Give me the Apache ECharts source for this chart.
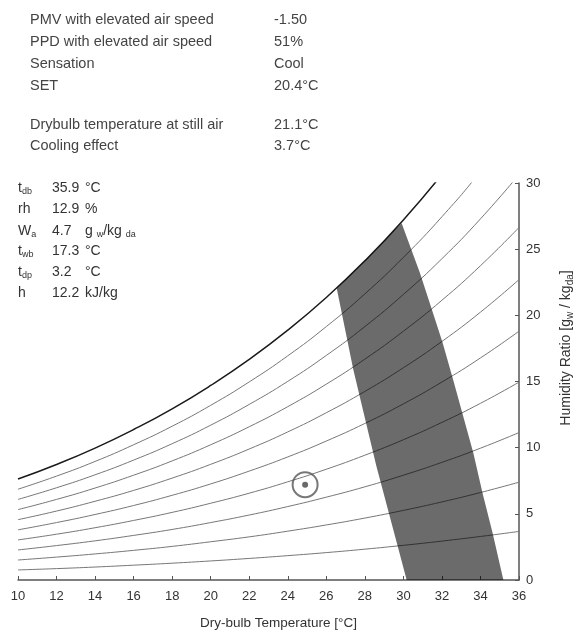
<!DOCTYPE html>
<html>
<head>
<meta charset="utf-8">
<script src="https://cdn.jsdelivr.net/npm/echarts@6/dist/echarts.min.js"></script>
<style>
html,body{margin:0;padding:0;background:#fff;}
#chart{width:576px;height:633px;}
</style>
</head>
<body>
<div id="chart"></div>
<script>
// Dry-bulb temperatures (°C) at which the relative-humidity lines are sampled
const temps = [10, 12, 14, 16, 18, 20, 22, 24, 26, 28, 30, 32, 34, 36];
// Humidity ratio (g/kg) of each constant-RH line
const rh10  = [0.76, 0.86, 0.98, 1.12, 1.27, 1.44, 1.63, 1.84, 2.07, 2.33, 2.62, 2.94, 3.29, 3.67];
const rh20  = [1.51, 1.73, 1.97, 2.24, 2.54, 2.89, 3.26, 3.69, 4.16, 4.68, 5.26, 5.90, 6.61, 7.39];
const rh30  = [2.27, 2.60, 2.96, 3.37, 3.82, 4.34, 4.91, 5.55, 6.26, 7.04, 7.92, 8.89, 9.96, 11.14];
const rh40  = [3.03, 3.46, 3.95, 4.50, 5.11, 5.80, 6.56, 7.42, 8.37, 9.43, 10.60, 11.91, 13.35, 14.95];
const rh50  = [3.79, 4.34, 4.95, 5.63, 6.40, 7.26, 8.23, 9.30, 10.50, 11.83, 13.31, 14.96, 16.78, 18.80];
const rh60  = [4.56, 5.21, 5.95, 6.77, 7.70, 8.74, 9.90, 11.19, 12.64, 14.25, 16.04, 18.03, 20.24, 22.70];
const rh70  = [5.32, 6.09, 6.95, 7.92, 9.00, 10.22, 11.58, 13.10, 14.80, 16.69, 18.80, 21.14, 23.75, 26.64];
const rh80  = [6.09, 6.97, 7.95, 9.06, 10.30, 11.70, 13.27, 15.01, 16.97, 19.15, 21.58, 24.28, 27.29, 30.63];
const rh90  = [6.86, 7.85, 8.96, 10.22, 11.62, 13.20, 14.97, 16.94, 19.15, 21.62, 24.38, 27.45, 30.87, 34.68];
const rh100 = [7.63, 8.73, 9.97, 11.37, 12.93, 14.70, 16.67, 18.88, 21.35, 24.12, 27.21, 30.65, 34.49, 38.77];

// Comfort zone polygon (dry-bulb °C, humidity ratio g/kg)
const comfortT = [26.54, 27.0, 27.5, 28.0, 28.5, 29.0, 29.5, 29.91, 30.86, 31.6, 32.04, 32.59, 33.63, 34.11, 34.63, 35.19, 30.17, 29.75, 28.6, 27.4];
const comfortW = [22.05, 22.70, 23.40, 24.12, 24.85, 25.62, 26.40, 26.95, 23.2, 19.9, 17.9, 15.1, 9.6, 6.55, 3.55, 0, 0, 2.3, 8.6, 15.9];

// Current state point
const pointT = [24.9];
const pointW = [7.2];

// Text panels
const infoLabels = ['PMV with elevated air speed', 'PPD with elevated air speed', 'Sensation', 'SET', 'Drybulb temperature at still air', 'Cooling effect'];
const infoValues = ['-1.50', '51%', 'Cool', '20.4°C', '21.1°C', '3.7°C'];
const stateLabels = ['t{s|db}', 'rh', 'W{s|a}', 't{s|wb}', 't{s|dp}', 'h'];
const stateValues = ['35.9', '12.9', '4.7', '17.3', '3.2', '12.2'];
const stateUnits = ['°C', '%', 'g {s|w}/kg {s|da}', '°C', '°C', 'kJ/kg'];

const xTicks = { min: 10, max: 36, interval: 2 };
const yTicks = { min: 0, max: 30, interval: 5 };

const FONT = 'Liberation Sans, Arial, sans-serif';
const TXT = '#333';

const rhSets = [rh10, rh20, rh30, rh40, rh50, rh60, rh70, rh80, rh90, rh100];
const lineSeries = rhSets.map((arr, k) => ({
  type: 'line',
  data: temps.map((t, i) => [t, arr[i]]),
  showSymbol: false,
  smooth: 0.5,
  clip: true,
  silent: true,
  z: 2,
  lineStyle: k === rhSets.length - 1 ? { color: '#1a1a1a', width: 1.5 } : { color: '#777', width: 1 }
}));

const graphics = [];
const infoY = [20, 42, 64, 86, 125, 146];
infoLabels.forEach((t, i) => {
  graphics.push({ type: 'text', x: 30, y: infoY[i], style: { text: t, font: '14.5px ' + FONT, fill: '#444', verticalAlign: 'middle' } });
  graphics.push({ type: 'text', x: 274, y: infoY[i], style: { text: infoValues[i], font: '14.5px ' + FONT, fill: '#444', verticalAlign: 'middle' } });
});
const richSub = { s: { fontSize: 9, fontFamily: FONT, fill: TXT, verticalAlign: 'bottom' } };
const stY = [188, 209, 231, 251, 272, 293];
stateLabels.forEach((t, i) => {
  graphics.push({ type: 'text', x: 18, y: stY[i], style: { text: t, fontSize: 14, fontFamily: FONT, fill: TXT, verticalAlign: 'middle', lineHeight: 17, rich: richSub } });
  graphics.push({ type: 'text', x: 52, y: stY[i], style: { text: stateValues[i], fontSize: 14, fontFamily: FONT, fill: TXT, verticalAlign: 'middle' } });
  graphics.push({ type: 'text', x: 85, y: stY[i], style: { text: stateUnits[i], fontSize: 14, fontFamily: FONT, fill: TXT, verticalAlign: 'middle', lineHeight: 17, rich: richSub } });
});
graphics.push({
  type: 'text', x: 566, y: 348, rotation: Math.PI / 2,
  style: { text: 'Humidity Ratio [g{s|w} / kg{s|da}]', fontSize: 14, fontFamily: FONT, fill: TXT, align: 'center', verticalAlign: 'middle', lineHeight: 18,
    rich: { s: { fontSize: 10, fontFamily: FONT, fill: TXT, verticalAlign: 'bottom' } } }
});

const chart = echarts.init(document.getElementById('chart'), null, { renderer: 'canvas' });
chart.setOption({
  animation: false,
  backgroundColor: '#fff',
  grid: { left: 18, right: 57, top: 183, bottom: 53, containLabel: false, outerBoundsMode: 'none' },
  xAxis: {
    type: 'value', min: xTicks.min, max: xTicks.max, interval: xTicks.interval,
    name: 'Dry-bulb Temperature [°C]', nameLocation: 'middle', nameGap: 36,
    nameTextStyle: { color: TXT, fontSize: 13.5, fontFamily: FONT, padding: [0, 0, 0, 20] },
    axisLine: { show: true, lineStyle: { color: '#555', width: 1.5 } },
    axisTick: { show: true, inside: true, length: 4, lineStyle: { color: '#555' } },
    axisLabel: { color: TXT, fontSize: 13, fontFamily: FONT, margin: 10 },
    splitLine: { show: false }
  },
  yAxis: {
    type: 'value', position: 'right', min: yTicks.min, max: yTicks.max, interval: yTicks.interval,
    axisLine: { show: true, lineStyle: { color: '#555', width: 1.5 } },
    axisTick: { show: true, inside: true, length: 4, lineStyle: { color: '#555' } },
    axisLabel: { color: TXT, fontSize: 13, fontFamily: FONT, margin: 7 },
    splitLine: { show: false }
  },
  graphic: graphics,
  series: lineSeries.concat([
    {
      type: 'custom',
      z: 3,
      silent: true,
      clip: true,
      data: comfortT.map((t, i) => [t, comfortW[i]]),
      renderItem: function (params, api) {
        if (params.dataIndex !== 0) return null;
        const pts = comfortT.map((t, i) => api.coord([t, comfortW[i]]));
        return { type: 'polygon', shape: { points: pts }, style: { fill: 'rgba(0,0,0,0.58)' } };
      }
    },
    {
      type: 'scatter', z: 4, silent: true,
      data: pointT.map((t, i) => [t, pointW[i]]),
      symbol: 'circle', symbolSize: 25,
      itemStyle: { color: 'rgba(255,255,255,0)', borderColor: '#555', borderWidth: 2 }
    },
    {
      type: 'scatter', z: 5, silent: true,
      data: pointT.map((t, i) => [t, pointW[i]]),
      symbol: 'circle', symbolSize: 6,
      itemStyle: { color: '#444' }
    }
  ])
});
</script>
</body>
</html>
